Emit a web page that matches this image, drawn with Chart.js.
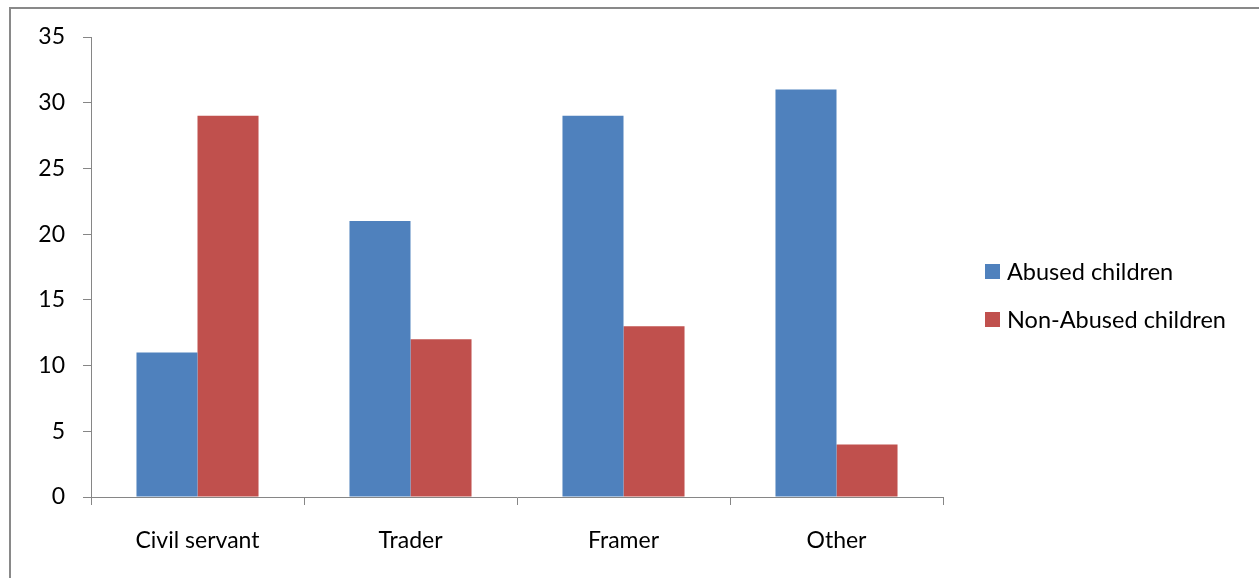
<!DOCTYPE html>
<html>
<head>
<meta charset="utf-8">
<script src="https://cdn.jsdelivr.net/npm/chart.js@4/dist/chart.umd.min.js"></script>
<style>
  body { margin: 0; background: #fff; font-family: Lato, "Open Sans", sans-serif; }
  #wrap { position: relative; width: 1259px; height: 578px; overflow: hidden; }
  #frame { position: absolute; left: 9px; top: 7px; width: 1400px; height: 700px; border: 2px solid #898989; box-sizing: border-box; }
  #chart { position: absolute; left: 0; top: 0; }
  .leg { position: absolute; left: 985px; font-size: 23.5px; color: #000; line-height: 15px; white-space: nowrap; }
  .leg span { display: inline-block; width: 15px; height: 15px; vertical-align: top; margin-right: 7px; }
</style>
</head>
<body>
<div id="wrap">
  <div id="frame"></div>
  <canvas id="chart" width="1259" height="578"></canvas>
  <div class="leg" style="top:264px"><span style="background:#4F81BD"></span>Abused children</div>
  <div class="leg" style="top:312px"><span style="background:#C0504D"></span>Non-Abused children</div>
</div>
<script>
document.addEventListener('DOMContentLoaded', function() {

    const categories = ['Civil servant', 'Trader', 'Framer', 'Other'];
    const abused = [11, 21, 29, 31];
    const nonAbused = [29, 12, 13, 4];
    const seriesNames = ['Abused children', 'Non-Abused children'];

    const axisGray = '#868686';
    const font = { family: 'Lato, "Open Sans", sans-serif', size: 23 };

    const ctx = document.getElementById('chart').getContext('2d');
    new Chart(ctx, {
        type: 'bar',
        data: {
            labels: categories,
            datasets: [{
                label: seriesNames[0],
                data: abused,
                backgroundColor: '#4F81BD',
                borderWidth: 0
            }, {
                label: seriesNames[1],
                data: nonAbused,
                backgroundColor: '#C0504D',
                borderWidth: 0
            }]
        },
        options: {
            responsive: false,
            animation: false,
            events: [],
            layout: { padding: { top: 37, right: 316, left: 0, bottom: 0 } },
            categoryPercentage: 0.573,
            barPercentage: 1,
            plugins: {
                legend: { display: false },
                tooltip: { enabled: false }
            },
            scales: {
                x: {
                    grid: { drawOnChartArea: false, drawTicks: true, tickLength: 8, color: axisGray, offset: true },
                    border: { display: true, color: axisGray, width: 1 },
                    ticks: { color: '#000', font: font, padding: 22, maxRotation: 0 },
                    afterFit: function(scale) { scale.height = 81; }
                },
                y: {
                    min: 0,
                    max: 35,
                    grid: { drawOnChartArea: false, drawTicks: true, tickLength: 8, color: axisGray },
                    border: { display: true, color: axisGray, width: 1 },
                    ticks: { stepSize: 5, color: '#000', font: font, padding: 18 },
                    afterFit: function(scale) { scale.width = 91; }
                }
            }
        }
    });
});
</script>
</body>
</html>
